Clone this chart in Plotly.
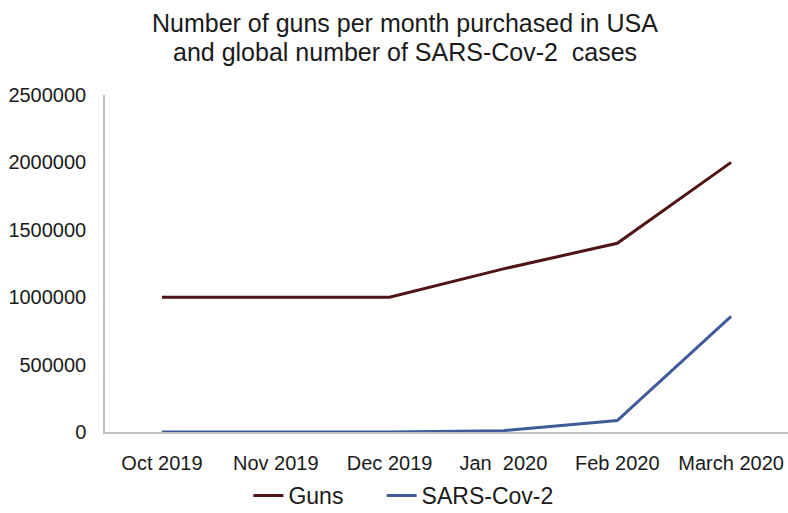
import plotly.graph_objects as go

months = ["Oct 2019", "Nov 2019", "Dec 2019", "Jan  2020", "Feb 2020", "March 2020"]
guns = [1000000, 1000000, 1000000, 1210000, 1400000, 2000000]
sars = [0, 0, 27, 9800, 85000, 857000]
y_ticks = [0, 500000, 1000000, 1500000, 2000000, 2500000]
title_lines = ["Number of guns per month purchased in USA",
               "and global number of SARS-Cov-2  cases"]

FONT = "Liberation Sans, Arial, sans-serif"
TXT = "#1a1a1a"

fig = go.Figure()
fig.add_trace(go.Scatter(x=months, y=guns, mode="lines", name="Guns",
                         line=dict(color="#4f1414", width=3), legend="legend"))
fig.add_trace(go.Scatter(x=months, y=sars, mode="lines", name="SARS-Cov-2",
                         line=dict(color="#3f5b9a", width=3), legend="legend2"))

for txt, yy in zip(title_lines, [1.2136, 1.1276]):
    fig.add_annotation(text=txt, xref="paper", yref="paper", x=0.439, y=yy,
                       xanchor="center", yanchor="middle", showarrow=False,
                       font=dict(size=25, family=FONT, color=TXT))

legend_common = dict(orientation="h", xref="paper", xanchor="left",
                     yref="container", y=0.034, yanchor="middle",
                     font=dict(size=23, family=FONT, color=TXT))

fig.update_layout(
    width=788, height=513,
    margin=dict(l=105, r=0, t=95, b=81),
    paper_bgcolor="white", plot_bgcolor="white",
    font=dict(family=FONT, color=TXT, size=20),
    showlegend=True,
    legend=dict(x=0.21, **legend_common),
    legend2=dict(x=0.405, **legend_common),
    xaxis=dict(type="category", range=[-0.5, 5.5], showgrid=False, showline=True,
               linecolor="#c0c0c0", linewidth=1.5, ticks="", tickfont=dict(size=20),
               zeroline=False, ticklabelstandoff=12),
    yaxis=dict(range=[0, 2500000], tickvals=y_ticks, tickformat="d", showgrid=False,
               showline=True, linecolor="#c0c0c0", linewidth=1.5, ticks="",
               tickfont=dict(size=20), zeroline=False, ticklabelstandoff=13),
)

fig.write_html("out.html")
